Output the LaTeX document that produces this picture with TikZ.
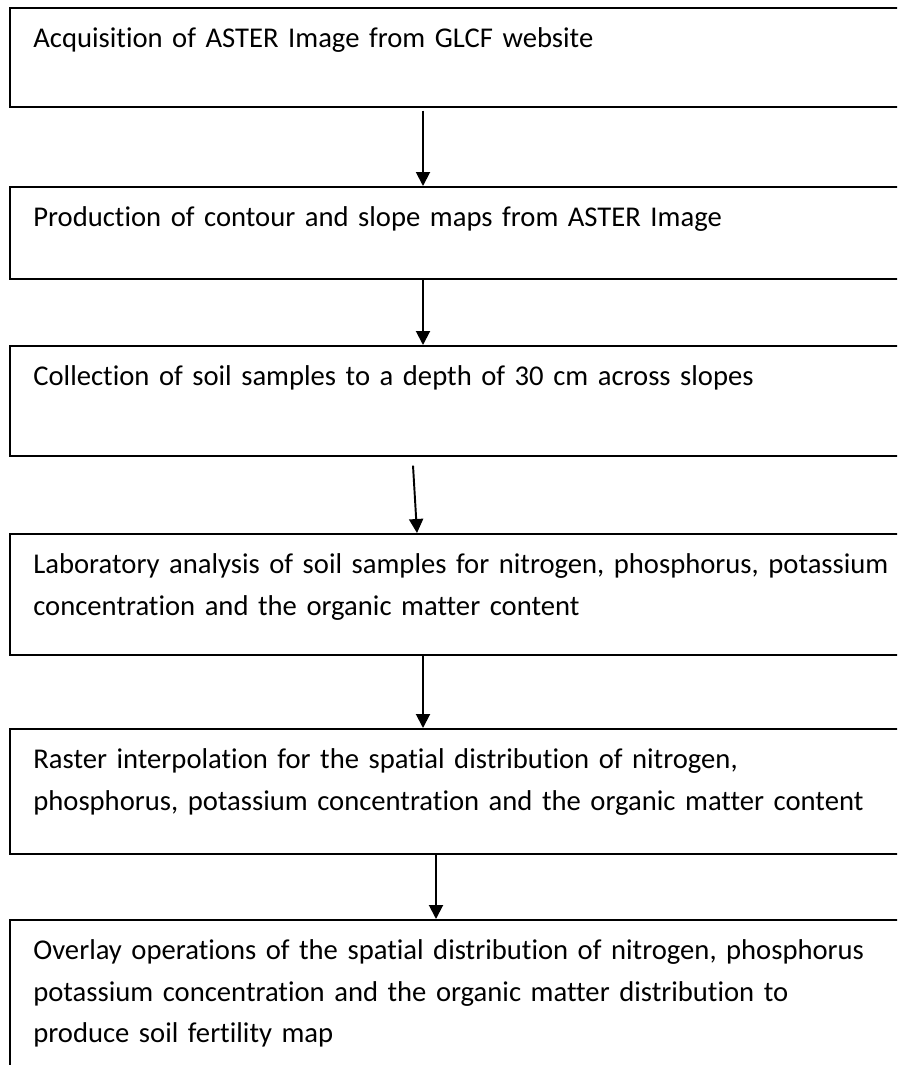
\documentclass[tikz,border=0pt]{standalone}
\usepackage{fontspec}
\setmainfont{Carlito}[Ligatures=NoCommon]
\usepackage{tikz}
\usetikzlibrary{
  positioning,
  arrows.meta,
  calc
}

\begin{document}
\begin{tikzpicture}[
  x=0.02cm, y=-0.02cm,
  stepbox/.style={draw, line width=0.9pt, anchor=north west, minimum width=17.92cm,
                  inner sep=0pt},
  steptext/.style={anchor=base west, inner sep=0pt, text width=17.6cm, align=left,
                   font=\fontsize{16.3pt}{23.9pt}\selectfont},
  arr/.style={-{Triangle[length=0.28cm, width=0.28cm]}, line width=1.1pt},
]
  \useasboundingbox (0,0) rectangle (897,1065);
  \clip (0,0) rectangle (897,1065);

  % Process boxes
  \node[stepbox, minimum height=1.98cm] (acq)  at (9,7)   {};
  \node[stepbox, minimum height=1.84cm] (prod) at (9,186) {};
  \node[stepbox, minimum height=2.20cm] (coll) at (9,345) {};
  \node[stepbox, minimum height=2.42cm] (lab)  at (9,533) {};
  \node[stepbox, minimum height=2.50cm] (rast) at (9,728) {};
  \node[stepbox, minimum height=3.20cm] (over) at (9,919) {};

  \node[steptext] (acqtxt)  at ($(acq.north west)+(24,40)$)
    {Acquisition of ASTER Image from GLCF website};
  \node[steptext] (prodtxt) at ($(prod.north west)+(24,40)$)
    {Production of contour and slope maps from ASTER Image};
  \node[steptext] (colltxt) at ($(coll.north west)+(24,40)$)
    {Collection of soil samples to a depth of 30 cm across slopes};
  \node[steptext] (labtxt)  at ($(lab.north west)+(24,40)$)
    {Laboratory analysis of soil samples for nitrogen, phosphorus, potassium\\
     concentration and the organic matter content};
  \node[steptext] (rasttxt) at ($(rast.north west)+(24,40)$)
    {Raster interpolation for the spatial distribution of nitrogen,\\
     phosphorus, potassium concentration and the organic matter content};
  \node[steptext] (overtxt) at ($(over.north west)+(24,40)$)
    {Overlay operations of the spatial distribution of nitrogen, phosphorus\\
     potassium concentration and the organic matter distribution to\\
     produce soil fertility map};

  % Arrows between steps
  \draw[arr] ($(acq.south west)+(414,3)$) -- ($(prod.north west)+(414,0)$);
  \draw[arr] ($(prod.south west)+(414,0)$) -- ($(coll.north west)+(414,0)$);
  \draw[arr] ($(coll.south west)+(404,9)$) -- ($(lab.north west)+(408,0)$);
  \draw[arr] ($(lab.south west)+(414,0)$) -- ($(rast.north west)+(414,0)$);
  \draw[arr] ($(rast.south west)+(427,0)$) -- ($(over.north west)+(427,0)$);
\end{tikzpicture}
\end{document}
